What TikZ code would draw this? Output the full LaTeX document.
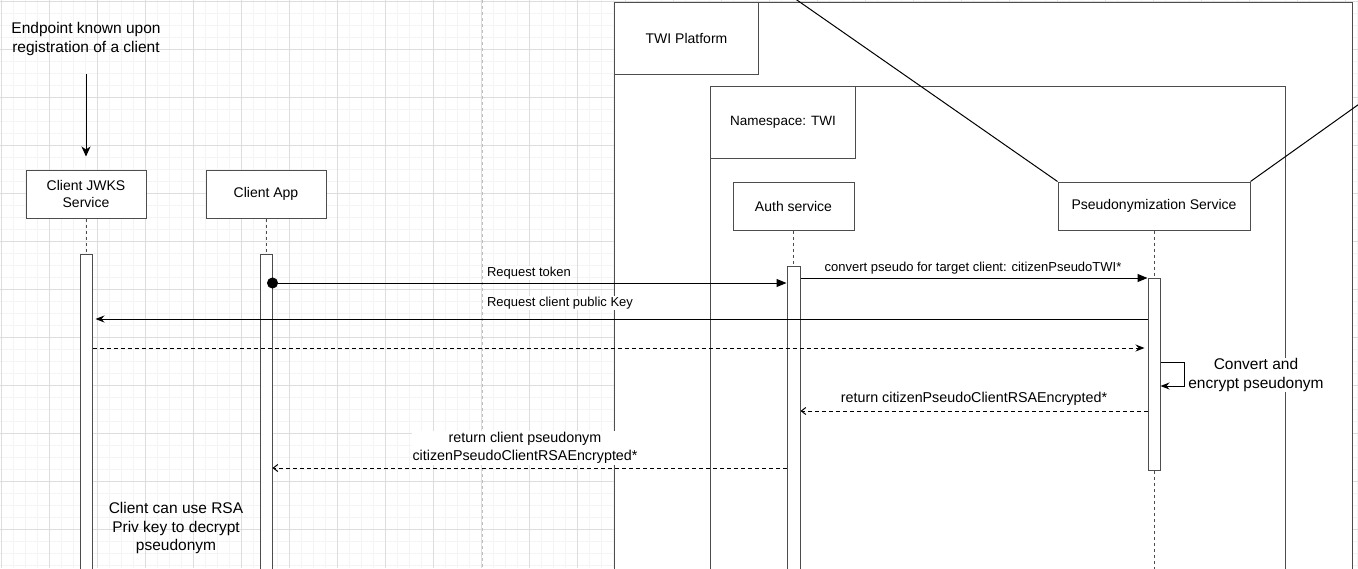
\documentclass[tikz,border=0pt]{standalone}
\usepackage{fontspec}
\setmainfont{Liberation Sans}
\usetikzlibrary{arrows.meta,positioning,calc}

\definecolor{gridmajor}{HTML}{DDDDDD}
\definecolor{gridminor}{HTML}{F4F4F4}
\definecolor{edge}{HTML}{4D4D4D}

\begin{document}
\begin{tikzpicture}[
  x=1pt, y=-1pt,
  box/.style={draw=edge, fill=white, line width=1pt, align=center, minimum width=120, minimum height=48, inner sep=0pt, font=\fontsize{14}{17}\selectfont},
  frame/.style={draw=edge, fill=white, line width=1pt, inner sep=0pt},
  bar/.style={draw=edge, fill=white, line width=1pt, minimum width=12, inner sep=0pt, anchor=north},
  life/.style={draw=edge, line width=1pt, dash pattern=on 3pt off 3pt},
  call/.style={line width=1pt, -{Triangle[length=10pt,width=8pt]}},
  ask/.style={line width=1pt, -{Stealth[length=9pt,width=7pt,inset=3pt]}},
  ack/.style={line width=1pt, dash pattern=on 4pt off 3pt, -{Stealth[length=9pt,width=7pt,inset=3pt]}},
  reply/.style={line width=1pt, dash pattern=on 4pt off 3pt, -{Straight Barb[length=4.5pt,width=7pt]}},
  lab/.style={fill=white, inner sep=1pt, align=center, font=\fontsize{13}{17}\selectfont},
  retlab/.style={lab, font=\fontsize{14.3}{18}\selectfont},
  note/.style={inner sep=0pt, align=center, font=\fontsize{15.5}{18.5}\selectfont}
]
\useasboundingbox (0,0) rectangle (1358,568);
\clip (0,0) rectangle (1358,568);

% background grid
\foreach \g in {1,13,...,1357} \draw[gridminor, line width=0.8pt] (\g,0) -- (\g,568);
\foreach \g in {1,13,...,567} \draw[gridminor, line width=0.8pt] (0,\g) -- (1358,\g);
\foreach \g in {1,49,...,1357} \draw[gridmajor, line width=0.8pt] (\g,0) -- (\g,568);
\foreach \g in {1,49,...,567} \draw[gridmajor, line width=0.8pt] (0,\g) -- (1358,\g);
\draw[black!25, line width=0.8pt, dash pattern=on 3pt off 3pt] (482,0) -- (482,568);

% platform and namespace
\node[frame, anchor=north west, minimum width=738, minimum height=620] (platform) at (614,2) {};
\node[box, anchor=north west, minimum width=144, minimum height=72] (platlabel) at (platform.north west) {TWI Platform};
\node[frame, anchor=north west, minimum width=575, minimum height=540] (nspace) at (710,86) {};
\node[box, anchor=north west, minimum width=145, minimum height=72, font=\fontsize{13.5}{16}\selectfont] (nslabel) at (nspace.north west) {Namespace: TWI};

% participants
\node[box] (jwks) at (86,194) {Client JWKS\\Service};
\node[box] (app) at (266,194) {Client App};
\node[box, minimum width=121] (auth) at (793.5,206) {Auth service};
\node[box, minimum width=192] (pseudo) at (1154,206) {Pseudonymization Service};

\coordinate (diagA) at (794,-2);
\coordinate (diagB) at (1362,102);
\draw[line width=1pt] (diagA) -- (pseudo.north west);
\draw[line width=1pt] (pseudo.north east) -- (diagB);

% activation bars
\node[bar, minimum height=330] (jwksbar) at (86,254) {};
\node[bar, minimum height=330] (appbar) at (266,254) {};
\node[bar, minimum height=320, minimum width=13] (authbar) at (793.5,266) {};
\node[bar, minimum height=192] (pseudobar) at (1154,278) {};
\coordinate (pseudoend) at (1154,570);

\draw[life] (jwks.south) -- (jwksbar.north);
\draw[life] (app.south) -- (appbar.north);
\draw[life] (auth.south) -- (authbar.north);
\draw[life] (pseudo.south) -- (pseudobar.north);
\draw[life] (pseudobar.south) -- (pseudoend);

% messages
\coordinate (rowtok) at (0,283);
\coordinate (rowkey) at (0,319);
\coordinate (rowack) at (0,348);
\coordinate (rowloop) at (0,362);
\coordinate (rowenc) at (0,411);
\coordinate (rowcli) at (0,468);

\draw[call, {Circle[length=11pt]}-{Triangle[length=10pt,width=8pt]}, shorten <=-5.5pt]
  (appbar.east |- rowtok) -- (authbar.west |- rowtok);
\draw[call] (authbar.east |- pseudobar.north) -- (pseudobar.north west);
\draw[ask, shorten >=3pt] (pseudobar.west |- rowkey) -- (jwksbar.east |- rowkey);
\draw[ack, shorten >=3pt] (jwksbar.east |- rowack) -- (pseudobar.west |- rowack);
\draw[ask] (pseudobar.east |- rowloop) -- ++(24,0) -- ++(0,24) -- ++(-24,0);
\draw[reply] (pseudobar.west |- rowenc) -- (authbar.east |- rowenc);
\draw[reply] (authbar.west |- rowcli) -- (appbar.east |- rowcli);

% labels
\node[lab] (labtok) at (529,273) {Request token};
\node[lab] (labconv) at (973,268) {convert pseudo for target client: citizenPseudoTWI*};
\node[lab] (labkey) at (560,303) {Request client public Key};
\node[lab, font=\fontsize{15.5}{18.5}\selectfont] (labloop) at (1256,375) {Convert and\\encrypt pseudonym};
\node[retlab] (labenc) at (974,399) {return citizenPseudoClientRSAEncrypted*};
\node[retlab] (labcli) at (525,448) {return client pseudonym\\citizenPseudoClientRSAEncrypted*};

% notes
\node[note] (endpoint) at (86,39) {Endpoint known upon\\registration of a client};
\coordinate (endtop) at (86,74);
\draw[line width=1pt, -{Stealth[length=10pt,width=9pt,inset=3pt]}, shorten >=13pt] (endtop) -- (jwks.north);
\node[note] (decrypt) at (176,528) {Client can use RSA\\Priv key to decrypt\\pseudonym};

\end{tikzpicture}
\end{document}
